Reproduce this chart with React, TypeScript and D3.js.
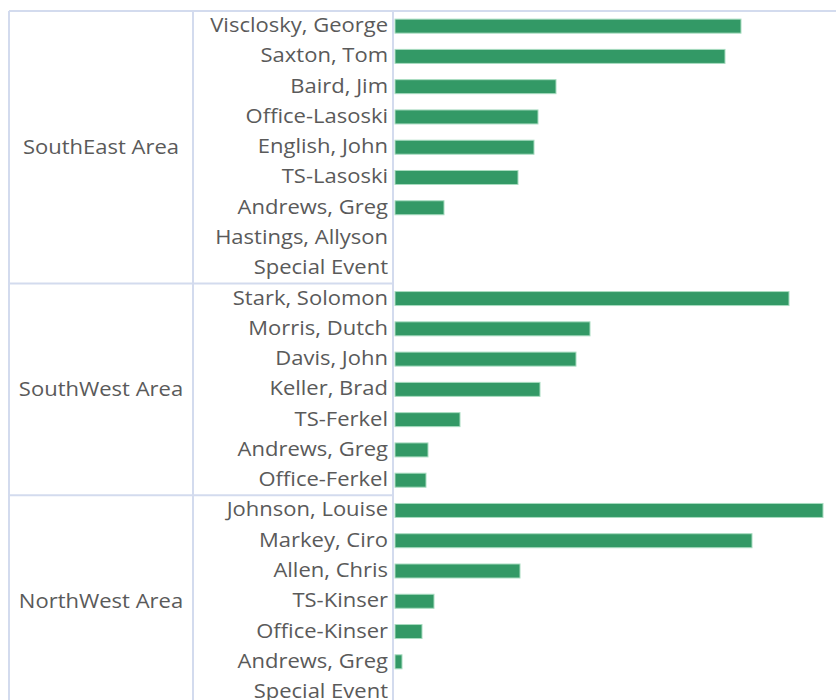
import * as d3 from 'd3'
import React from 'react'

const areas = ['SouthEast Area', 'SouthWest Area', 'NorthWest Area']

const southEastNames = [
  'Visclosky, George',
  'Saxton, Tom',
  'Baird, Jim',
  'Office-Lasoski',
  'English, John',
  'TS-Lasoski',
  'Andrews, Greg',
  'Hastings, Allyson',
  'Special Event',
]
const southEastValues = [346, 330, 161, 143, 139, 123, 49, 0, 0]

const southWestNames = [
  'Stark, Solomon',
  'Morris, Dutch',
  'Davis, John',
  'Keller, Brad',
  'TS-Ferkel',
  'Andrews, Greg',
  'Office-Ferkel',
]
const southWestValues = [394, 195, 181, 145, 65, 33, 31]

const northWestNames = [
  'Johnson, Louise',
  'Markey, Ciro',
  'Allen, Chris',
  'TS-Kinser',
  'Office-Kinser',
  'Andrews, Greg',
  'Special Event',
]
const northWestValues = [428, 357, 125, 39, 27, 7, 0]

const groupNames = [southEastNames, southWestNames, northWestNames]
const groupValues = [southEastValues, southWestValues, northWestValues]

const W = 836
const H = 700
const left = 9
const areaRight = 193
const axisX = 393
const top = 11
const rowH = 30.27

const gridColor = '#d3dbee'
const textColor = '#5a5a5a'
const barColor = '#339966'
// the labels in the original are a touch wider than Open Sans
const sx = 1.1

export default function App() {
  const rows = groupNames.flatMap((names, gi) =>
    names.map((name, i) => ({ key: `${gi}-${i}`, name, value: groupValues[gi][i], group: gi }))
  )

  const y = d3
    .scaleBand<string>()
    .domain(rows.map(r => r.key))
    .range([top, top + rows.length * rowH])

  const x = d3.scaleLinear().domain([0, 428]).range([axisX + 2, 823])

  const groupBounds = groupNames.map((names, gi) => {
    const first = y(`${gi}-0`) ?? 0
    const last = (y(`${gi}-${names.length - 1}`) ?? 0) + y.bandwidth()
    return { y0: first, y1: last }
  })

  const barH = 14

  return (
    <svg
      width={W}
      height={H}
      style={{ position: 'absolute', left: 0, top: 0, fontFamily: '"Open Sans", sans-serif' }}
    >
      <rect width={W} height={H} fill="#fff" />
      {/* grid */}
      <line x1={left} x2={W} y1={top} y2={top} stroke={gridColor} strokeWidth={2} />
      {groupBounds.slice(0, -1).map((b, i) => (
        <line key={i} x1={left} x2={axisX} y1={b.y1} y2={b.y1} stroke={gridColor} strokeWidth={2} />
      ))}
      {[left, areaRight, axisX].map(xx => (
        <line key={xx} x1={xx} x2={xx} y1={top} y2={H} stroke={gridColor} strokeWidth={2} />
      ))}
      <g transform={`scale(${sx},1)`} fontSize={20} fill={textColor}>
        {/* area labels */}
        {areas.map((a, i) => (
          <text
            key={a}
            x={(left + areaRight) / 2 / sx}
            y={(groupBounds[i].y0 + groupBounds[i].y1) / 2}
            dy="0.35em"
            textAnchor="middle"
          >
            {a}
          </text>
        ))}
        {/* names */}
        {rows.map(r => (
          <text
            key={r.key}
            x={(axisX - 5) / sx}
            y={(y(r.key) ?? 0) + y.bandwidth() / 2 - 1}
            dy="0.35em"
            textAnchor="end"
          >
            {r.name}
          </text>
        ))}
      </g>
      {/* bars */}
      {rows
        .filter(r => r.value > 0)
        .map(r => (
          <rect
            key={r.key}
            x={x(0)}
            y={(y(r.key) ?? 0) + y.bandwidth() / 2 - barH / 2}
            width={x(r.value) - x(0)}
            height={barH}
            fill={barColor}
            stroke="#a8dcc0"
            strokeWidth={1}
          />
        ))}
    </svg>
  )
}
